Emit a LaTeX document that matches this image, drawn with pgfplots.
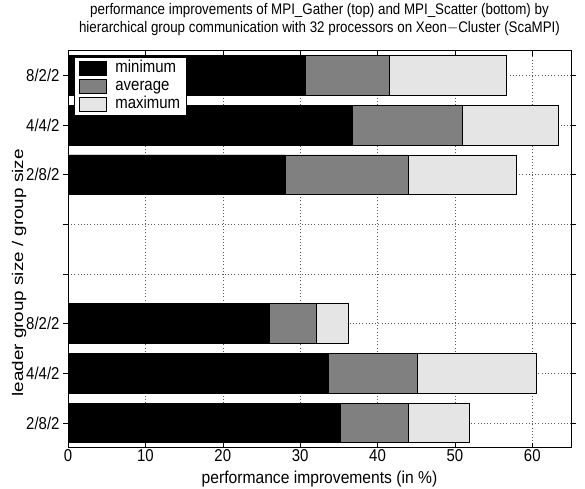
\documentclass[border=0pt]{standalone}
\usepackage{fontspec}
\setmainfont{Liberation Sans}
\usepackage{graphicx}
\usepackage{pgfplots}
\usepackage{pgfplotstable}
\pgfplotsset{compat=1.18}

% text is set slightly taller than wide
\newcommand{\tall}[1]{\scalebox{1}[1.15]{#1}}

% min / avg / max improvement per configuration (positions 1-3: Scatter, 6-8: Gather)
\pgfplotstableread{
pos  min   avg   max
1    35.2  44.0  51.9
2    33.7  45.1  60.5
3    25.95 32.1  36.2
6    28.1  44.0  57.9
7    36.8  50.9  63.4
8    30.7  41.5  56.6
}\perf

\begin{document}
\begin{tikzpicture}
\path (0,0) rectangle (585bp,486bp);
\begin{axis}[
  at={(68bp,40bp)}, anchor=south west,
  scale only axis, width=503bp, height=397bp,
  xmin=0, xmax=65, ymin=0.5, ymax=8.5,
  xtick={0,10,...,60}, ytick={1,...,8},
  /pgf/number format/assume math mode=true,
  xticklabel={\tall{\pgfmathprintnumber{\tick}}},
  yticklabels={\tall{2/8/2},\tall{4/4/2},\tall{8/2/2},,,\tall{2/8/2},\tall{4/4/2},\tall{8/2/2}},
  xtick pos=both, ytick pos=both,
  xticklabel pos=lower, yticklabel pos=left,
  tick align=inside, major tick length=5bp,
  tick style={black, line width=0.5bp},
  axis line style={line width=0.8bp},
  grid=major,
  major grid style={black!65, line width=0.5bp, dash pattern=on 0.8bp off 2.4bp},
  ticklabel style={font=\fontsize{15}{15}\selectfont},
  xticklabel style={inner sep=1bp, yshift=-1bp},
  xlabel={\scalebox{1}[1.1]{performance improvements (in \%)}},
  ylabel={\scalebox{1.22}[1]{leader group size / group size}},
  xlabel style={font=\fontsize{15.7}{15}\selectfont, inner sep=1bp, at={(axis description cs:0.5,-0.08)}, anchor=center},
  ylabel style={font=\fontsize{15.5}{15}\selectfont, at={(axis description cs:-0.097,0.44)}, anchor=center},
  title={\tall{performance improvements of MPI\_Gather (top) and MPI\_Scatter (bottom) by}\\\tall{hierarchical group communication with 32 processors on Xeon$-$Cluster (ScaMPI)}},
  title style={at={(axis description cs:0.5,1)}, anchor=center, yshift=25bp,
    align=center, font=\fontsize{13.4}{18.5}\selectfont},
  xbar, bar width=0.8, bar shift=0pt,
  every axis plot/.append style={draw=black, line width=0.6bp},
  reverse legend,
  legend image code/.code={\draw[#1,draw=black,line width=0.6bp] (0bp,-7bp) rectangle (27bp,7bp);},
  legend style={at={(axis description cs:0.012,0.985)}, anchor=north west,
    draw=black, line width=0.6bp, fill=white, font=\fontsize{15}{15}\selectfont,
    inner xsep=5bp, inner ysep=2bp, row sep=0bp,
    nodes={inner sep=1.5bp, text height=12bp, text depth=3bp},
    /tikz/every odd column/.append style={column sep=7bp},
    /tikz/every even column/.append style={column sep=0bp}},
  legend cell align=left,
]
\addplot[fill=black!10] table[x=max, y=pos] {\perf};
\addlegendentry{\tall{maximum}\hspace{8bp}}
\addplot[fill=black!50] table[x=avg, y=pos] {\perf};
\addlegendentry{\tall{average}}
\addplot[fill=black] table[x=min, y=pos] {\perf};
\addlegendentry{\tall{minimum}}
\end{axis}
\end{tikzpicture}
\end{document}
